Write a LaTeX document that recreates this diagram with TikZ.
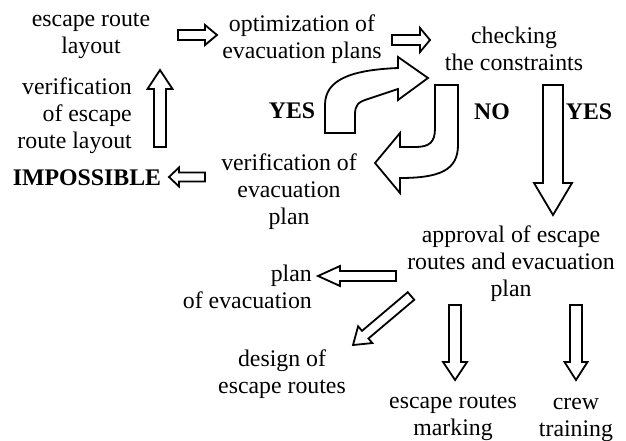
\documentclass[tikz,border=0pt]{standalone}
\usepackage{fontspec}
\setmainfont{Liberation Serif}
\usetikzlibrary{calc}

% hollow block arrow: tail, tip, half shaft width, half head width, head length
\newcommand\blockarrow[5]{%
  \path ($(#2)!#5pt!(#1)$) coordinate (hb);
  \draw[barrow] ($(#1)!#3pt!90:(#2)$) -- ($(hb)!#3pt!-90:(#1)$)
    -- ($(hb)!#4pt!-90:(#1)$) -- (#2) -- ($(hb)!#4pt!90:(#1)$)
    -- ($(hb)!#3pt!90:(#1)$) -- ($(#1)!#3pt!-90:(#2)$) -- cycle;
}

\begin{document}
\begin{tikzpicture}[x=1pt,y=-1pt,
  barrow/.style={draw=black,line width=1.8pt,fill=white,line join=miter},
  lbl/.style={inner sep=0pt,font=\fontsize{23.8}{27}\selectfont,align=center},
  bold/.style={inner sep=0pt,font=\fontsize{23.8}{27}\selectfont\bfseries}]
\useasboundingbox (0,0) rectangle (626,441);

% labels
\node[lbl] (layout) at (91,36.2) {escape route\\layout};
\node[lbl] (optim) at (302,39) {optimization of\\evacuation plans};
\node[lbl] (check) at (514,48.4) {checking\\the constraints};
\node[lbl,align=right,anchor=east] (verlay) at (132,115.5) {verification\\of escape\\route layout};
\node[lbl] (verplan) at (289,191.5) {verification of\\evacuation\\plan};
\node[bold,anchor=base] (imp) at (87,185) {IMPOSSIBLE};
\node[bold,anchor=base] (yes1) at (292,118) {YES};
\node[bold,anchor=base] (no) at (492,120) {NO};
\node[bold,anchor=base] (yes2) at (589,120) {YES};
\node[lbl] (approve) at (511,263.5) {approval of escape\\routes and evacuation\\plan};
\node[lbl,align=right,anchor=east] (planev) at (312,286.4) {plan\\of evacuation};
\node[lbl] (design) at (282,374) {design of\\escape routes};
\node[lbl] (marking) at (453,418.2) {escape routes\\marking};
\node[lbl] (crew) at (576,419.8) {crew\\training};

% arrow ends
\coordinate (a1t) at (178,35);  \coordinate (a1h) at (217,35);
\coordinate (a2t) at (392,40);  \coordinate (a2h) at (430,40);
\coordinate (upt) at (160,147); \coordinate (uph) at (160,70);
\coordinate (imt) at (205,177); \coordinate (imh) at (169,177);
\coordinate (bgt) at (553,85);  \coordinate (bgh) at (553,215);
\coordinate (plt) at (396,276); \coordinate (plh) at (318,276);
\coordinate (dgt) at (411,296); \coordinate (dgh) at (353,345);
\coordinate (mkt) at (455,305); \coordinate (mkh) at (455,380);
\coordinate (crt) at (576,305); \coordinate (crh) at (576,380);

\blockarrow{a1t}{a1h}{5}{10}{12}
\blockarrow{a2t}{a2h}{5}{12}{10}
\blockarrow{upt}{uph}{6}{12.5}{19}
\blockarrow{imt}{imh}{4.5}{9.5}{10}
\blockarrow{bgt}{bgh}{10}{19}{32}
\blockarrow{plt}{plh}{5}{10}{22}
\blockarrow{dgt}{dgh}{5}{11}{16}
\blockarrow{mkt}{mkh}{6}{12}{18}
\blockarrow{crt}{crh}{6}{11.5}{18}

% curved arrow: YES, back to the optimization
\draw[barrow] (325,133) -- (325,105) .. controls (325,80) and (350,70) .. (398,68)
  -- (398,57) -- (428,78) -- (398,100) -- (398,89)
  -- (368,99) .. controls (358,102) and (355,105) .. (355,115) -- (355,133) -- cycle;

% curved arrow: NO, to the verification of the plan
\draw[barrow] (435,85) -- (458,85) -- (458,145) .. controls (458,170) and (440,178) .. (400,178)
  -- (400,193) -- (375,163) -- (400,133) -- (400,147)
  -- (415,147) .. controls (430,147) and (435,142) .. (435,128) -- cycle;
\end{tikzpicture}
\end{document}
